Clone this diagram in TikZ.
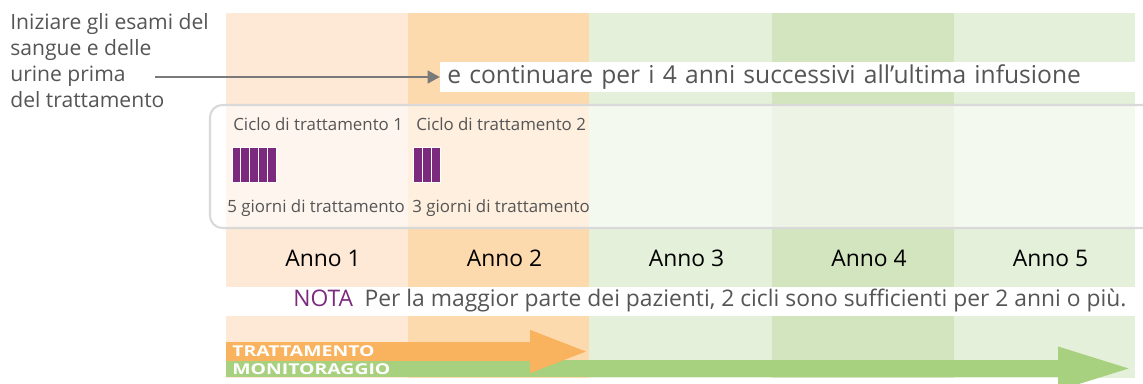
\documentclass[tikz,border=0pt]{standalone}
\usepackage{fontspec}
\setmainfont{Open Sans}
\usetikzlibrary{arrows.meta}
\definecolor{annoA}{HTML}{FDE9D5}
\definecolor{annoB}{HTML}{FDD9AE}
\definecolor{annoC}{HTML}{E4F0DA}
\definecolor{annoD}{HTML}{D3E5BE}
\definecolor{viola}{HTML}{7B2A7D}
\definecolor{grigio}{HTML}{555555}
\definecolor{freccia}{HTML}{7A7A7A}
\definecolor{arancio}{HTML}{F9B35E}
\definecolor{verde}{HTML}{A8D17F}

\begin{document}
\begin{tikzpicture}[x=0.02cm,y=-0.02cm,
    testo/.style={text=grigio, inner sep=0pt},
    piccolo/.style={testo, anchor=west, font=\fontsize{9.6}{11}\selectfont},
    anno/.style={font=\fontsize{13}{15}\selectfont, inner sep=0pt},
    giorno/.style={fill=viola, draw=white, line width=0.5pt},
    barra/.style={text=white, font=\fontsize{8.5}{9}\selectfont\bfseries\addfontfeature{FakeStretch=1.3},
        inner sep=0pt, anchor=west}]
\useasboundingbox (0,0) rectangle (1143,383);
% colonne degli anni
\foreach \i/\xa/\xb/\c in {1/226/408/annoA, 2/408/589/annoB, 3/589/772/annoC, 4/772/954/annoD, 5/954/1135/annoC} {
    \fill[\c] (\xa,13) rectangle (\xb,287);
    \fill[\c] (\xa,316) rectangle (\xb,378);
    \node[anno] (anno\i) at ({(\xa+\xb)/2+6},258) {Anno \i};
}
% riquadro dei cicli
\draw[rounded corners=7pt, draw=black!15, line width=1.2pt, fill=white, fill opacity=0.6] (210,105) rectangle (1170,228);
\node[piccolo] (ciclo1) at (233,124) {Ciclo di trattamento 1};
\node[piccolo] (ciclo2) at (416,124) {Ciclo di trattamento 2};
\foreach \k in {0,...,4}
    \filldraw[giorno] ({232+\k*8.8},147) rectangle ++(8.8,35);
\foreach \k in {0,...,2}
    \filldraw[giorno] ({413+\k*9},147) rectangle ++(9,35);
\node[piccolo] (giorni1) at (227,208) {5 giorni di trattamento};
\node[piccolo] (giorni2) at (412,208) {3 giorni di trattamento};
% esami
\node[testo, anchor=north west, align=left, font=\fontsize{12}{14.8}\selectfont] (esami) at (10,13)
    {Iniziare gli esami del\\sangue e delle\\urine prima\\del trattamento};
\node[fill=white, anchor=west, inner xsep=0.14cm, inner ysep=0pt, minimum height=0.6cm,
    text width=13.8cm, text=grigio, font=\fontsize{14}{16}\selectfont] (continua) at (440,77)
    {e continuare per i 4 anni successivi all'ultima infusione};
\coordinate (inizio) at (155,77);
\draw[freccia, line width=1.7pt, -{Triangle[length=7pt,width=7pt]}] (inizio) -- (continua.west |- inizio);
% nota
\node[testo, anchor=west, font=\fontsize{13}{15}\selectfont] (nota) at (293,300)
    {\textcolor{viola}{NOTA}\hspace{0.5em}Per la maggior parte dei pazienti, 2 cicli sono sufficienti per 2 anni o più.};
% frecce in basso
\draw[verde, line width=0.34cm, -{Triangle[length=1.56cm,width=0.76cm]}] (226,368.5) -- (1136,368.5);
\draw[arancio, line width=0.38cm, -{Triangle[length=1.2cm,width=0.76cm]}] (226,351.5) -- (590,351.5);
\node[barra] (tratt) at (232,351) {TRATTAMENTO};
\node[barra] (monit) at (232,369) {MONITORAGGIO};
\end{tikzpicture}
\end{document}
